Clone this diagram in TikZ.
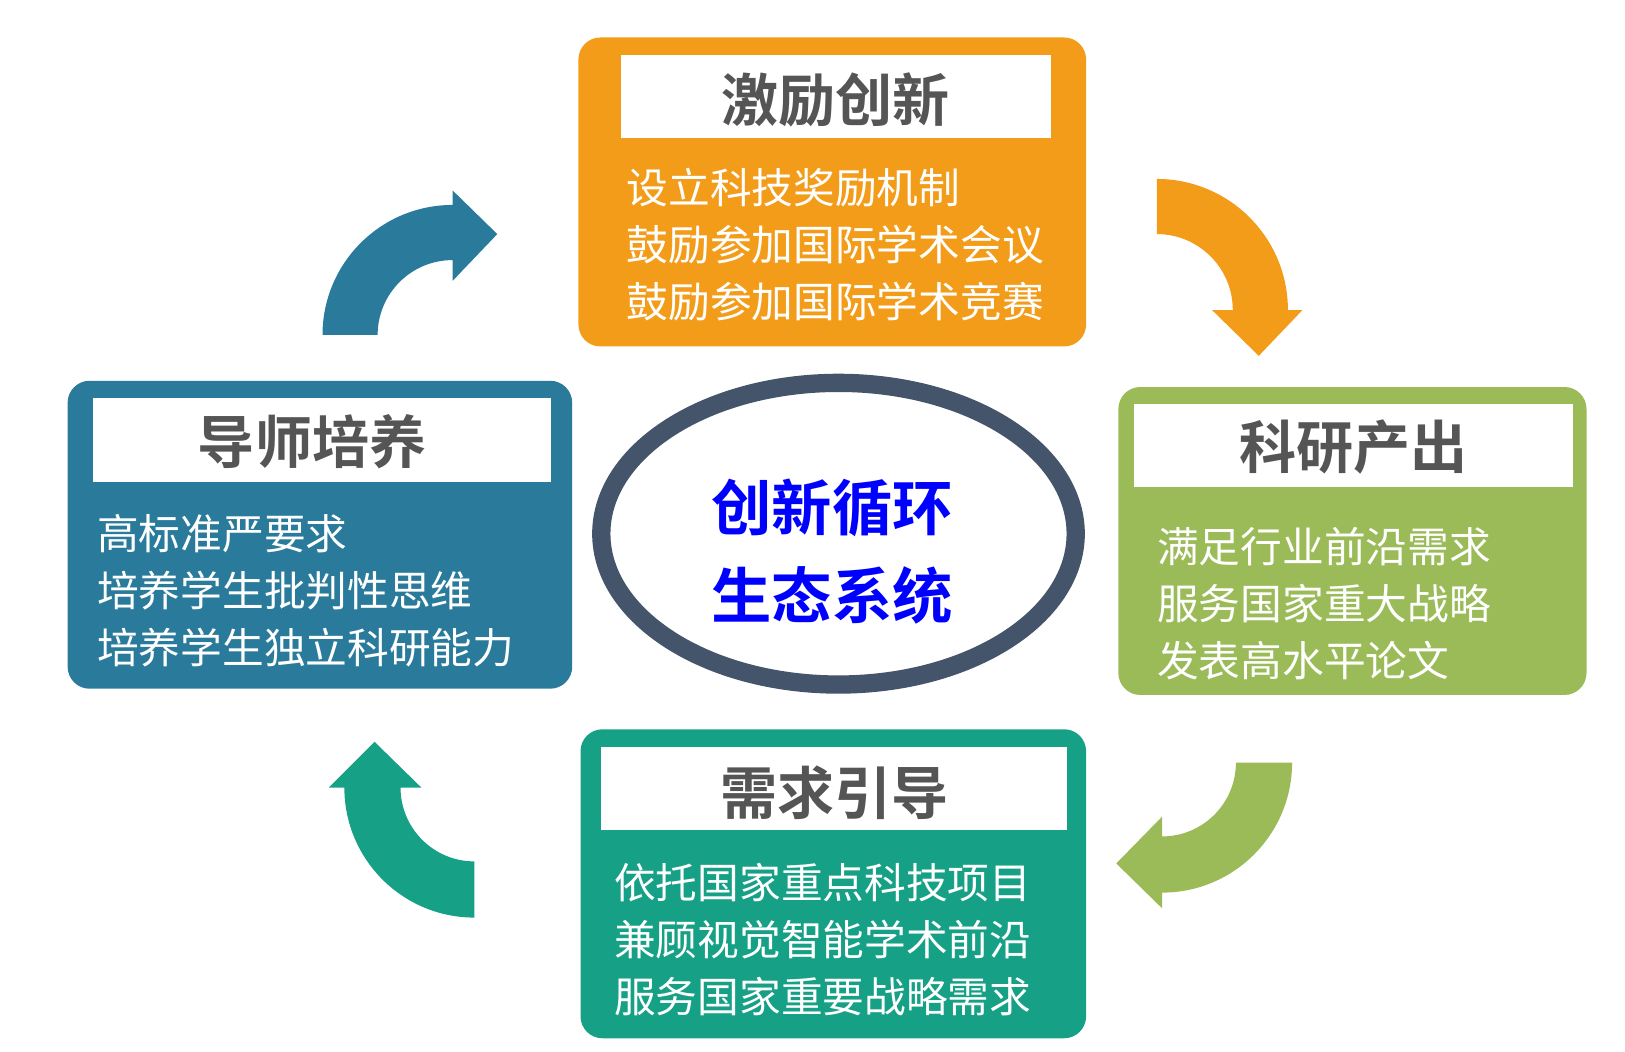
\documentclass[tikz,border=0pt]{standalone}
\usepackage{fontspec}
\newfontfamily\cjk{Noto Sans CJK SC}
\newfontfamily\cjkb{Noto Sans CJK SC Bold}
\definecolor{orangeC}{HTML}{F39C1A}
\definecolor{greenC}{HTML}{9BBB59}
\definecolor{tealC}{HTML}{16A085}
\definecolor{blueC}{HTML}{2A7B9B}
\definecolor{ringC}{HTML}{44546A}
\definecolor{titleC}{HTML}{555555}
\tikzset{
  panel/.style={rounded corners=6pt, inner sep=0pt},
  titlebox/.style={fill=white, inner sep=0pt},
  titletext/.style={font=\cjkb\fontsize{15.6pt}{18pt}\selectfont, text=titleC},
  itemtext/.style={font=\cjk\fontsize{11.4pt}{15.6pt}\selectfont, text=white, align=left, anchor=west}
}
\begin{document}
\begin{tikzpicture}[line cap=round, line join=round, x=0.01cm, y=-0.01cm]
  \useasboundingbox (0,0) rectangle (1562,1011);

  % top panel
  \fill[orangeC, panel] (556,36) rectangle (1044,333);
  \fill[titlebox] (597,53) rectangle (1010,133);
  \node[titletext] (tTop) at (803,96) {激励创新};
  \node[itemtext] (iTop) at (590,235) {设立科技奖励机制\\鼓励参加国际学术会议\\鼓励参加国际学术竞赛};

  % right panel
  \fill[greenC, panel] (1075,372) rectangle (1525,668);
  \fill[titlebox] (1090,388) rectangle (1512,468);
  \node[titletext] (tRight) at (1301,430) {科研产出};
  \node[itemtext] (iRight) at (1100,580) {满足行业前沿需求\\服务国家重大战略\\发表高水平论文};

  % bottom panel
  \fill[tealC, panel] (558,701) rectangle (1044,998);
  \fill[titlebox] (578,718) rectangle (1026,798);
  \node[titletext] (tBottom) at (802,762) {需求引导};
  \node[itemtext] (iBottom) at (578,903) {依托国家重点科技项目\\兼顾视觉智能学术前沿\\服务国家重要战略需求};

  % left panel
  \fill[blueC, panel] (65,366) rectangle (550,662);
  \fill[titlebox] (89,383) rectangle (530,463);
  \node[titletext] (tLeft) at (300,425) {导师培养};
  \node[itemtext] (iLeft) at (81,568) {高标准严要求\\培养学生批判性思维\\培养学生独立科研能力};

  % centre
  \draw[ringC, line width=5pt, fill=white] (806,513) ellipse (228 and 145);
  \node[font=\cjkb\fontsize{16.5pt}{24pt}\selectfont, text=blue, align=center] (core) at (800,530) {创新循环\\生态系统};

  % curved arrows
  \fill[blueC] (310,322) arc (180:270:125) -- (435,183) -- (478,225) -- (435,270) -- (435,250) arc (270:180:72) -- cycle;
  \fill[orangeC] (1112,172) arc (270:360:126) -- (1252,298) -- (1210,342) -- (1165,298) -- (1185,298) arc (0:-90:73) -- cycle;
  \fill[greenC] (1242,733) arc (0:90:125) -- (1117,873) -- (1073,830) -- (1117,785) -- (1117,804) arc (90:0:71) -- cycle;
  \fill[tealC] (456,882) arc (90:180:125) -- (316,757) -- (360,713) -- (405,757) -- (385,757) arc (180:90:71) -- cycle;
\end{tikzpicture}
\end{document}
